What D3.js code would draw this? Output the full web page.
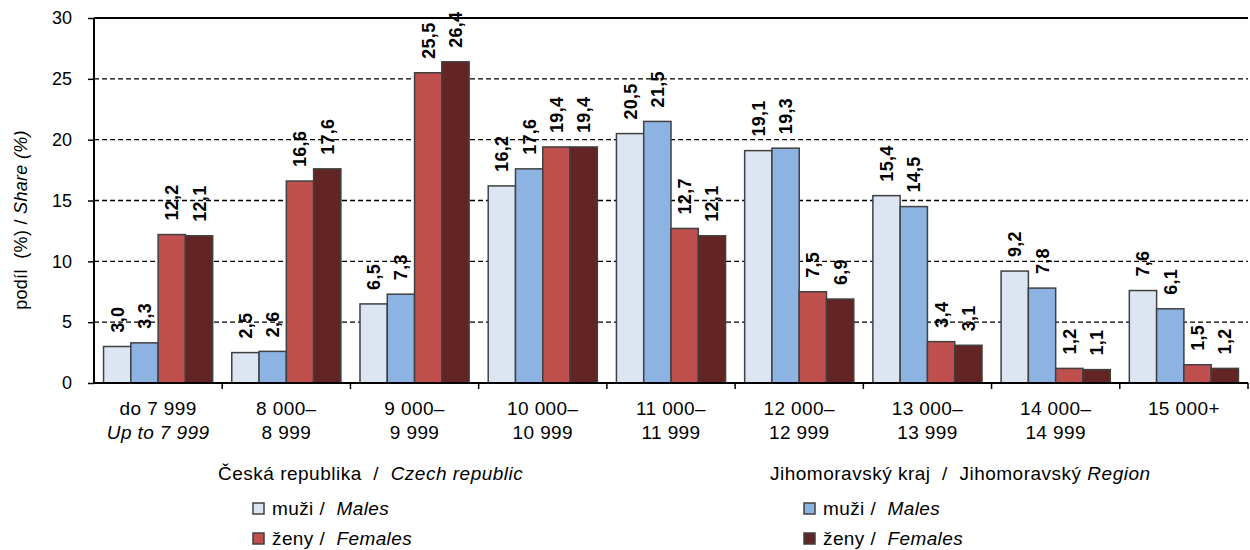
<!DOCTYPE html>
<html>
<head>
<meta charset="utf-8">
<script src="https://cdn.jsdelivr.net/npm/d3@7"></script>
<style>
  body { margin: 0; background: #fff; }
  text { font-family: "Liberation Sans", Arial, sans-serif; fill: #000; }
</style>
</head>
<body>
<div id="chart"></div>
<script>
// data
var categories = ["do 7 999", "8 000–8 999", "9 000–9 999", "10 000–10 999", "11 000–11 999",
                  "12 000–12 999", "13 000–13 999", "14 000–14 999", "15 000+"];
var catLine1 = ["do 7 999", "8 000–", "9 000–", "10 000–", "11 000–", "12 000–", "13 000–", "14 000–", "15 000+"];
var catLine2 = ["Up to 7 999", "8 999", "9 999", "10 999", "11 999", "12 999", "13 999", "14 999", ""];
var crMales     = [3.0, 2.5, 6.5, 16.2, 20.5, 19.1, 15.4, 9.2, 7.6];
var jmkMales    = [3.3, 2.6, 7.3, 17.6, 21.5, 19.3, 14.5, 7.8, 6.1];
var crFemales   = [12.2, 16.6, 25.5, 19.4, 12.7, 7.5, 3.4, 1.2, 1.5];
var jmkFemales  = [12.1, 17.6, 26.4, 19.4, 12.1, 6.9, 3.1, 1.1, 1.2];
var yTicks = [0, 5, 10, 15, 20, 25, 30];

var seriesKeys = ["crM", "jmkM", "crF", "jmkF"];
var seriesValues = {crM: crMales, jmkM: jmkMales, crF: crFemales, jmkF: jmkFemales};
var colors = {crM: "#dce6f2", jmkM: "#8db3e2", crF: "#c0504d", jmkF: "#632523"};

var margin = {top: 18, right: 2, bottom: 167, left: 94},
    W = 1250, H = 550,
    width = W - margin.left - margin.right,
    height = H - margin.top - margin.bottom;

var svg = d3.select("#chart").append("svg")
    .attr("width", W).attr("height", H);
var g = svg.append("g")
    .attr("transform", "translate(" + margin.left + "," + margin.top + ")");

var y = d3.scaleLinear().domain([0, 30]).range([height, 0]);
var x0 = d3.scaleBand().domain(categories).range([0, width]).padding(0);
var x1 = d3.scaleBand().domain(seriesKeys).range([0, x0.bandwidth()])
    .paddingInner(0).paddingOuter(0.35);

// dashed gridlines
g.selectAll(".grid")
  .data(yTicks.filter(d => d > 0 && d < 30))
  .enter().append("line")
    .attr("x1", 0).attr("x2", width)
    .attr("y1", d => y(d)).attr("y2", d => y(d))
    .attr("stroke", "#000").attr("stroke-width", 1.3)
    .attr("stroke-dasharray", "5,3");
// top border
g.append("line")
    .attr("x1", 0).attr("x2", width)
    .attr("y1", y(30)).attr("y2", y(30))
    .attr("stroke", "#000").attr("stroke-width", 2);

// bars
var rows = categories.map(function(c, i) {
  return {cat: c, vals: seriesKeys.map(k => ({key: k, value: seriesValues[k][i]}))};
});
var groups = g.selectAll(".cat").data(rows).enter().append("g")
    .attr("transform", d => "translate(" + x0(d.cat) + ",0)");
groups.selectAll("rect").data(d => d.vals).enter().append("rect")
    .attr("x", d => x1(d.key))
    .attr("y", d => y(d.value))
    .attr("width", x1.bandwidth())
    .attr("height", d => height - y(d.value))
    .attr("fill", d => colors[d.key])
    .attr("stroke", "#404040").attr("stroke-width", 1.5);

// rotated value labels
groups.selectAll(".lab").data(d => d.vals).enter().append("text")
    .attr("transform", d => "translate(" + (x1(d.key) + x1.bandwidth() / 2) + "," + (y(d.value) - 14) + ") rotate(-90)")
    .attr("dy", "0.36em")
    .style("font-size", "18px").style("font-weight", "bold")
    .style("letter-spacing", "0.3px")
    .text(d => d3.format(".1f")(d.value).replace(".", ","));

// y axis
g.append("line").attr("x1", 0).attr("x2", 0).attr("y1", 0).attr("y2", height)
    .attr("stroke", "#000").attr("stroke-width", 2);
var yAxis = g.append("g").call(d3.axisLeft(y).tickValues(yTicks).tickSize(6).tickPadding(16));
yAxis.select(".domain").remove();
yAxis.selectAll("line").attr("stroke", "#000").attr("stroke-width", 1.5);
yAxis.selectAll("text").style("font-size", "18px").style("font-family", "Liberation Sans, Arial, sans-serif");

// x axis
g.append("line").attr("x1", 0).attr("x2", width).attr("y1", height).attr("y2", height)
    .attr("stroke", "#000").attr("stroke-width", 2);
g.selectAll(".xtick").data(categories).enter().append("line")
    .attr("x1", d => x0(d) + x0.bandwidth())
    .attr("x2", d => x0(d) + x0.bandwidth())
    .attr("y1", height).attr("y2", height + 6)
    .attr("stroke", "#000").attr("stroke-width", 1.5);

var catLabels = g.selectAll(".xl").data(categories).enter().append("text")
    .attr("x", d => x0(d) + x0.bandwidth() / 2)
    .attr("y", height + 32)
    .attr("text-anchor", "middle")
    .style("font-size", "19px")
    .style("letter-spacing", "0.4px");
catLabels.append("tspan").text((d, i) => catLine1[i]);
catLabels.append("tspan")
    .attr("x", d => x0(d) + x0.bandwidth() / 2)
    .attr("dy", 24)
    .style("font-style", (d, i) => i === 0 ? "italic" : "normal")
    .text((d, i) => catLine2[i]);

// y axis title
svg.append("text")
    .attr("transform", "translate(27,220) rotate(-90)")
    .attr("text-anchor", "middle")
    .style("font-size", "18px")
    .style("letter-spacing", "0.3px")
    .html('podíl&#160;&#160;(%) / <tspan font-style="italic">Share (%)</tspan>');

// legend
function legendBlock(tx, sx, title, titleIt, keys) {
  var t = svg.append("text").attr("x", tx).attr("y", 480)
      .style("font-size", "19px").style("letter-spacing", "0.5px");
  t.append("tspan").text(title);
  t.append("tspan").style("font-style", "italic").text(titleIt);
  var labels = [["muži /\u00a0\u00a0", "Males"], ["ženy /\u00a0\u00a0", "Females"]];
  keys.forEach(function(k, i) {
    svg.append("rect")
        .attr("x", sx).attr("y", 503 + i * 30)
        .attr("width", 11).attr("height", 11)
        .attr("fill", colors[k]).attr("stroke", "#404040").attr("stroke-width", 1.5);
    var lt = svg.append("text").attr("x", sx + 19).attr("y", 515 + i * 30)
        .style("font-size", "19px").style("letter-spacing", "0.4px");
    lt.append("tspan").text(labels[i][0]);
    lt.append("tspan").style("font-style", "italic").text(labels[i][1]);
  });
}
legendBlock(218, 253, "Česká republika\u00a0 /\u00a0\u00a0", "Czech republic", ["crM", "crF"]);
legendBlock(770, 804, "Jihomoravský kraj\u00a0 /\u00a0 Jihomoravský ", "Region", ["jmkM", "jmkF"]);
</script>
</body>
</html>
